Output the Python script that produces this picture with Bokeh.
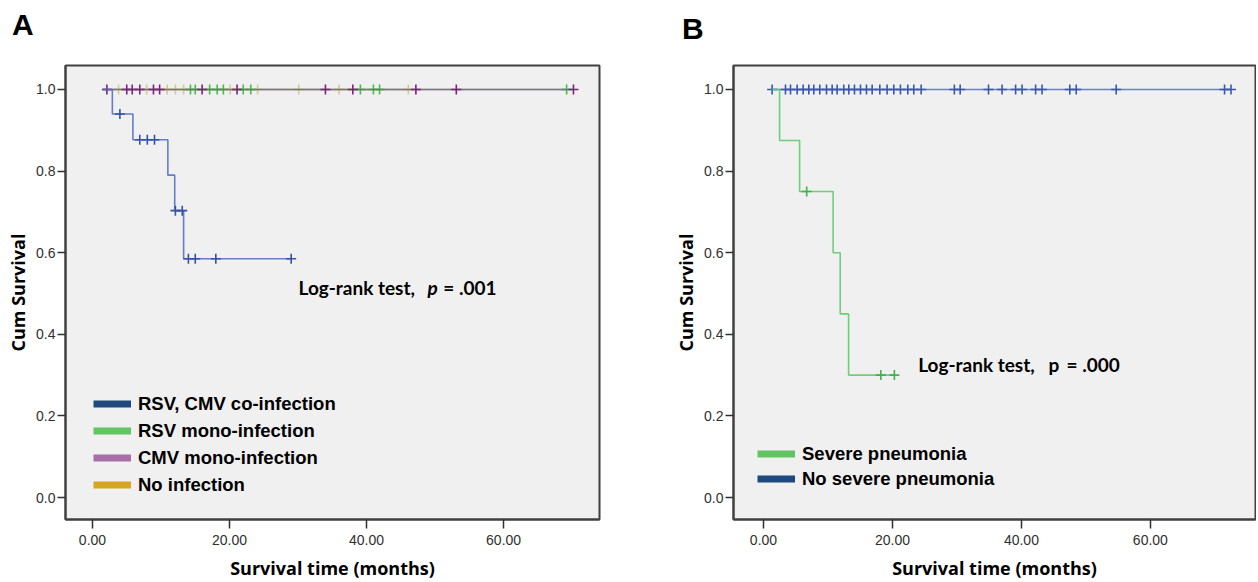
import numpy as np
from bokeh.plotting import figure
from bokeh.layouts import row, column
from bokeh.models import Label, Legend, LegendItem, FixedTicker, PrintfTickFormatter, Range1d, Div
from bokeh.embed import file_html
from bokeh.resources import INLINE

# ---------------- Panel A data (months, cumulative survival) ----------------
a_start = 1.5
coinf_drop_t = [2.9, 5.9, 11.0, 12.0, 13.3]
coinf_drop_s = [0.94, 0.877, 0.79, 0.703, 0.585]
coinf_censor = [4.0, 6.9, 8.0, 9.05, 12.1, 13.1, 14.0, 15.0, 18.0, 29.0]

rsv_censor = [14.3, 15.0, 17.1, 18.2, 19.1, 22.0, 23.1, 39.1, 41.0, 41.9, 69.2]
cmv_censor = [2.1, 5.0, 5.8, 6.9, 8.9, 9.8, 16.0, 21.1, 34.0, 38.0, 47.2, 53.1, 70.2]
noinf_censor = [3.8, 7.9, 10.9, 12.1, 13.3, 20.1, 24.1, 30.1, 36.0, 46.1]

a_legend = ["RSV, CMV co-infection", "RSV mono-infection", "CMV mono-infection", "No infection"]

# ---------------- Panel B data ----------------
b_start = 1.3
sev_drop_t = [2.5, 5.6, 10.8, 11.9, 13.2]
sev_drop_s = [0.875, 0.75, 0.6, 0.45, 0.30]
sev_censor = [6.7, 18.2, 20.3]

nosev_censor = [1.34, 3.41, 4.19, 5.22, 6.15, 7.03, 7.80, 8.73, 9.77, 10.65, 11.42,
                12.45, 13.23, 14.11, 15.04, 15.97, 16.85, 18.04, 19.17, 20.21, 21.24,
                22.38, 23.31, 24.45, 29.6, 30.5, 34.9, 37.0, 39.1, 40.1, 42.2, 43.2,
                47.5, 48.5, 54.7, 71.5, 72.5]

b_legend = ["Severe pneumonia", "No severe pneumonia"]

x_ticks = [0, 20, 40, 60]
y_ticks = [0.0, 0.2, 0.4, 0.6, 0.8, 1.0]


def km_xy(start, drop_t, drop_s, cens):
    end = max(cens)
    xs = [start] + list(drop_t) + [end]
    ys = [1.0] + list(drop_s) + [drop_s[-1] if drop_s else 1.0]
    return xs, ys


def censor_y(drop_t, drop_s, cens):
    levels = [1.0] + list(drop_s)
    idx = np.searchsorted(np.array(drop_t, dtype=float), np.array(cens, dtype=float), side="right")
    return [levels[i] for i in idx]


TICK_FONT = "Liberation Sans"
TITLE_FONT = "Open Sans"


def make_fig(width, height, bl, br, bt, bb, xr, yr):
    p = figure(width=width, height=height, output_backend="svg", toolbar_location=None,
               x_range=Range1d(*xr), y_range=Range1d(*yr),
               min_border_left=bl, min_border_right=br, min_border_top=bt, min_border_bottom=bb)
    p.background_fill_color = "#f0f0f0"
    p.border_fill_color = "white"
    p.outline_line_color = "#404040"
    p.outline_line_width = 2
    p.xgrid.visible = False
    p.ygrid.visible = False
    for ax in (p.xaxis[0], p.yaxis[0]):
        ax.axis_line_color = "#404040"
        ax.axis_line_width = 2
        ax.major_tick_line_color = "#303030"
        ax.major_tick_line_width = 1.5
        ax.major_tick_in = 0
        ax.minor_tick_line_color = None
        ax.major_label_text_font = TICK_FONT
        ax.major_label_text_font_size = "14px"
        ax.major_label_text_color = "#303030"
        ax.axis_label_text_font = TITLE_FONT
        ax.axis_label_text_font_style = "bold"
        ax.axis_label_text_font_size = "18px"
        ax.axis_label_text_color = "black"
    p.xaxis[0].ticker = FixedTicker(ticks=x_ticks)
    p.xaxis[0].formatter = PrintfTickFormatter(format="%.2f")
    p.xaxis[0].major_tick_out = 9
    p.xaxis[0].major_label_standoff = 6
    p.xaxis[0].axis_label_standoff = 8
    p.xaxis[0].axis_label = "Survival time (months)"
    p.yaxis[0].ticker = FixedTicker(ticks=y_ticks)
    p.yaxis[0].formatter = PrintfTickFormatter(format="%.1f")
    p.yaxis[0].major_tick_out = 8
    p.yaxis[0].major_label_standoff = 2
    p.yaxis[0].axis_label_standoff = 3
    p.yaxis[0].axis_label = "Cum Survival"
    return p


def letter_div(letter, width, height, pad_top, pad_left):
    html = ('<div style="margin:0;padding:%.1fpx 0 0 %dpx;font-family:\'Liberation Sans\';'
            'font-weight:bold;font-size:30px;line-height:30px;color:black">%s</div>'
            % (pad_top, pad_left, letter))
    return Div(text=html, width=width, height=height, margin=0)


def add_curve(p, start, drop_t, drop_s, cens, line_color, mark_color, alpha=0.9):
    xs, ys = km_xy(start, drop_t, drop_s, cens)
    p.step(xs, ys, mode="after", line_color=line_color, line_width=1.6, line_alpha=alpha)
    p.scatter(cens, censor_y(drop_t, drop_s, cens), marker="cross", size=10,
              line_color=mark_color, line_width=1.6)


def add_legend(p, labels, colors, loc, pitch):
    items = []
    for lab, col in zip(labels, colors):
        # swatch-only renderer, its points lie outside the visible ranges
        r = p.line([-100, -99], [-100, -100], line_color=col, line_width=7)
        items.append(LegendItem(label=lab, renderers=[r]))
    lg = Legend(items=items, location=loc, padding=0, margin=0, spacing=0,
                glyph_width=38, glyph_height=pitch, label_height=pitch, label_standoff=7,
                background_fill_alpha=0, border_line_alpha=0,
                label_text_font="Liberation Sans", label_text_font_style="bold",
                label_text_font_size="18.5px", label_text_color="black")
    p.add_layout(lg)


def add_text(p, x, y, text, style):
    p.add_layout(Label(x=x, y=y, text=text, text_font="Lato", text_font_style=style,
                       text_font_size="19px", text_baseline="middle", text_color="black"))


DIV_H = 40
H = 582 - DIV_H
Y_RANGE = (-0.0539, 1.0588)
# ---------------- Panel A ----------------
pa = make_fig(668, H, 65, 69, 65 - DIV_H, 63, (-3.94, 74.0), Y_RANGE)
add_curve(pa, a_start, [], [], noinf_censor, "#d8d49a", "#d2cd8a")
add_curve(pa, a_start, [], [], rsv_censor, "#6bcf6b", "#3cc43c")
add_curve(pa, a_start, [], [], cmv_censor, "#8a628e", "#7a237a")
add_curve(pa, a_start, coinf_drop_t, coinf_drop_s, coinf_censor, "#5470c4", "#3551a8")
add_legend(pa, a_legend, ["#1f497d", "#62c462", "#a66fa6", "#d6a521"], (28, 21), 27)
add_text(pa, 30.07, 0.515, "Log-rank test,", "bold")
add_text(pa, 48.9, 0.515, "p", "bold italic")
add_text(pa, 51.2, 0.515, "= .001", "bold")

# ---------------- Panel B ----------------
pb = make_fig(588, H, 65, 1, 65 - DIV_H, 63, (-4.65, 76.3), Y_RANGE)
add_curve(pb, b_start, [], [], nosev_censor, "#5a76c8", "#3a56ac")
add_curve(pb, b_start, sev_drop_t, sev_drop_s, sev_censor, "#5fcc6a", "#3cb44b")
add_legend(pb, b_legend, ["#62c462", "#1f497d"], (24, 28), 25)
add_text(pb, 24.0, 0.325, "Log-rank test,", "bold")
add_text(pb, 44.2, 0.325, "p", "bold")
add_text(pb, 47.0, 0.325, "= .000", "bold")

layout = row(column(letter_div("A", 668, DIV_H, 9.6, 12), pa),
             column(letter_div("B", 588, DIV_H, 13.5, 14), pb))
open("out.html", "w").write(file_html(layout, INLINE))
